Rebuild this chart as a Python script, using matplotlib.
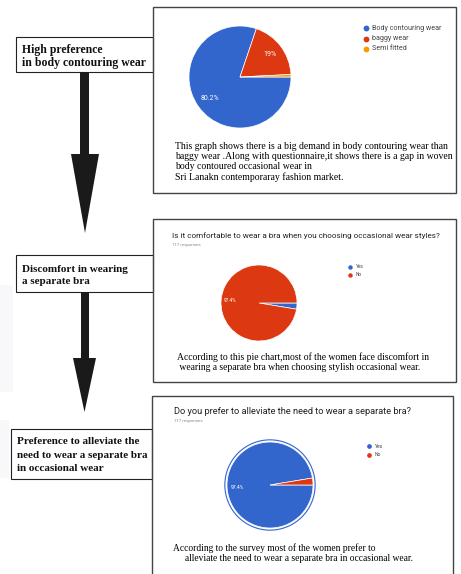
import numpy as np
import matplotlib.pyplot as plt
from matplotlib.patches import Rectangle, Circle

# data
steps = ["High preference\nin body contouring wear",
         "Discomfort in wearing\na separate bra",
         "Preference to alleviate the\nneed to wear a separate bra\nin occasional wear"]

pie1_labels = ["Body contouring wear", "baggy wear", "Semi fitted"]
pie1_values = [80.2, 19.0, 0.8]
pie1_colors = ["#3366CC", "#DC3912", "#FF9900"]
pie1_note = ("This graph shows there is a big demand in body contouring wear than\n"
             "baggy wear .Along with questionnaire,it shows there is a gap in woven\n"
             "body contoured occasional wear in\n"
             "Sri Lanakn contemporaray fashion market.")

pie2_title = "Is it comfortable to wear a bra when you choosing occasional wear styles?"
pie2_labels = ["Yes", "No"]
pie2_values = [2.6, 97.4]
pie2_note = ("According to this pie chart,most of the women face discomfort in\n"
             " wearing a separate bra when choosing stylish occasional wear.")

pie3_title = "Do you prefer to alleviate the need to wear a separate bra?"
pie3_labels = ["Yes", "No"]
pie3_values = [97.4, 2.6]
pie3_note = ("According to the survey most of the women prefer to\n"
             "     alleviate the need to wear a separate bra in occasional wear.")

responses = "117 responses"
yes_no_colors = ["#3366CC", "#DC3912"]

W, H = 461, 574
fig = plt.figure(figsize=(W / 100, H / 100), dpi=100)
ax0 = fig.add_axes([0, 0, 1, 1])
ax0.set_xlim(0, W)
ax0.set_ylim(H, 0)
ax0.axis("off")

serif = "Liberation Serif"
sans = "Roboto"


def pct(p):
    if p < 5:
        return ""
    return f"{p:.1f}".rstrip("0").rstrip(".") + "%"


def pie_at(cx, cy, r, values, colors, fs, pd=0.75):
    a = fig.add_axes([(cx - r) / W, (H - cy - r) / H, 2 * r / W, 2 * r / H])
    a.pie(values, colors=colors, startangle=0, counterclock=False,
          autopct=pct, pctdistance=pd,
          wedgeprops=dict(edgecolor="white", linewidth=0.5),
          textprops=dict(color="white", fontsize=fs, family=sans))
    a.set_xlim(-1, 1)
    a.set_ylim(-1, 1)
    a.set_aspect("equal")
    a.axis("off")
    return a


def legend_at(x, y, dy, labels, colors, fs, ms):
    for i, (lab, col) in enumerate(zip(labels, colors)):
        ax0.plot(x, y + i * dy, "o", color=col, ms=ms, mec="none")
        ax0.text(x + 6, y + i * dy, lab, fontsize=fs, family=sans,
                 color="#444444", va="center")


def step_box(x0, y0, x1, y1, text, tx, baselines, fs):
    ax0.add_patch(Rectangle((x0, y0), x1 - x0, y1 - y0, fill=False,
                            ec="#222222", lw=0.8))
    for line, yb in zip(text.split("\n"), baselines):
        ax0.text(tx, yb, line, fontsize=fs, family=serif, weight="bold",
                 va="baseline", color="#111111")


# faint shading at the left edge
ax0.add_patch(Rectangle((0, 285), 13, 107, color="#f8f8fa", lw=0))
ax0.add_patch(Rectangle((0, 420), 9, 58, color="#f8f8fa", lw=0))

# left step boxes
step_box(16, 37, 153, 72, steps[0], 22, [53, 66], 8.5)
step_box(16, 255, 153, 292, steps[1], 22, [272.5, 283.5], 8.0)
step_box(11, 429, 152, 479, steps[2], 17, [444.5, 458, 471], 8.05)

# arrows
for top, neck, tip, sx0, sx1, hx0, hx1 in [(72, 154, 233, 80, 89, 71, 99),
                                           (292, 358, 412, 81, 89, 73, 96)]:
    xs = [sx0, sx1, sx1, hx1, (hx0 + hx1) / 2, hx0, sx0]
    ys = [top, top, neck, neck, tip, neck, neck]
    ax0.fill(xs, ys, color="#1a1a1a", lw=0)

# right panels
ax0.add_patch(Rectangle((153, 7), 303, 186, fill=False, ec="#444444", lw=1.0))
ax0.add_patch(Rectangle((153, 219), 303, 163, fill=False, ec="#444444", lw=1.0))
ax0.add_patch(Rectangle((152, 396), 301, 190, fill=False, ec="#444444", lw=1.0))

# panel 1
pie_at(240, 77, 51, pie1_values, pie1_colors, 5.0, 0.73)
legend_at(366, 28, 10.5, pie1_labels, pie1_colors, 5.1, 4.2)
ax0.text(175, 142, pie1_note, fontsize=7.0, family=serif, va="top",
         linespacing=1.15)

# panel 2
ax0.text(172, 236, pie2_title, fontsize=5.9, family=sans, color="#222222",
         va="center")
ax0.text(172, 245, responses, fontsize=3.2, family=sans, color="#888888",
         va="center")
pie_at(259, 303, 38, pie2_values, yes_no_colors, 3.4, 0.77)
legend_at(350, 267, 8, pie2_labels, yes_no_colors, 3.4, 3.2)
ax0.text(177, 352, pie2_note, fontsize=6.95, family=serif, va="top",
         linespacing=1.15)

# panel 3
ax0.text(174, 411, pie3_title, fontsize=6.7, family=sans, color="#222222",
         va="center")
ax0.text(174, 421, responses, fontsize=3.2, family=sans, color="#888888",
         va="center")
a3 = pie_at(270, 485, 43, pie3_values, yes_no_colors, 3.6, 0.77)
a3.add_patch(Circle((0, 0), 1.05, fill=False, ec="#3366CC", lw=0.8,
                    clip_on=False))
legend_at(369, 446, 9, pie3_labels, yes_no_colors, 3.6, 3.4)
ax0.text(173, 543, pie3_note, fontsize=6.85, family=serif, va="top",
         linespacing=1.15)

fig.savefig("out.png", dpi=100)
